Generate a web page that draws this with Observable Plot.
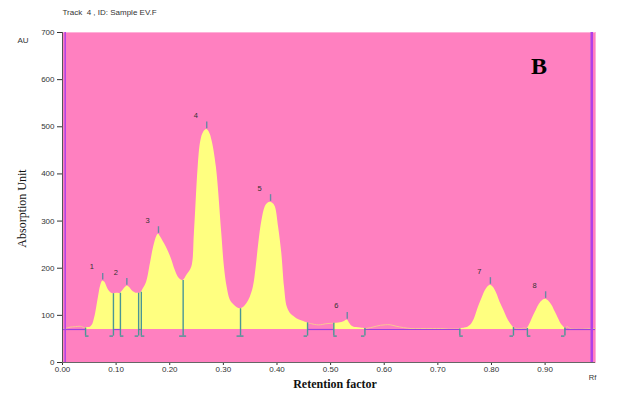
<!DOCTYPE html>
<html><head><meta charset="utf-8">
<script src="https://cdn.jsdelivr.net/npm/d3@7"></script>
<script src="https://cdn.jsdelivr.net/npm/@observablehq/plot@0.6"></script>
<style>body{margin:0;background:#fff} svg{display:block}</style>
</head><body><div id="chart"></div>
<script>
// Densitogram trace (Rf, AU)
const curveRf = [0.000,0.005,0.014,0.024,0.033,0.038,0.043,0.048,0.052,0.056,0.058,0.062,0.065,0.068,0.071,0.075,0.079,0.083,0.086,0.090,0.095,0.101,0.108,0.113,0.117,0.120,0.124,0.128,0.132,0.137,0.142,0.145,0.147,0.151,0.157,0.164,0.170,0.176,0.179,0.183,0.188,0.193,0.198,0.204,0.210,0.216,0.220,0.225,0.232,0.241,0.246,0.253,0.258,0.263,0.269,0.274,0.279,0.287,0.297,0.302,0.307,0.313,0.320,0.326,0.332,0.338,0.344,0.350,0.356,0.361,0.366,0.372,0.378,0.383,0.388,0.393,0.397,0.403,0.409,0.414,0.419,0.425,0.431,0.437,0.447,0.457,0.465,0.474,0.481,0.490,0.499,0.506,0.509,0.515,0.521,0.526,0.531,0.535,0.540,0.548,0.556,0.564,0.575,0.585,0.593,0.602,0.611,0.622,0.636,0.650,0.668,0.690,0.705,0.720,0.733,0.741,0.750,0.756,0.761,0.768,0.776,0.783,0.789,0.794,0.798,0.803,0.810,0.816,0.823,0.829,0.835,0.841,0.848,0.855,0.861,0.867,0.871,0.876,0.882,0.888,0.894,0.901,0.907,0.913,0.919,0.925,0.931,0.937,0.942,0.946,0.955,0.970,0.985,0.994];
const curveAU = [71,72,75,76,77,75,73,74,75,80,86,105,125,145,162,173,170,160,153,148,146,147,147,153,159,162,160,155,150,147,147,147,149,157,171,210,245,268,272,266,256,246,234,217,196,181,176,174,185,202,274,414,470,488,494,488,470,414,274,202,160,132,122,116,114,117,125,138,160,200,252,301,330,338,340,337,330,287,231,160,118,104,98,93,88,84,82,80,80,82,83,83,83,84,85,87,90,84,77,74,73,72,74,77,79,80,80,77,74,72,72,72,72,71,71,71,73,75,79,92,118,138,153,161,164,160,146,128,111,95,83,74,72,72,73,72,80,93,107,121,130,134,130,121,107,93,80,73,76,72,71,71,72,72];
const baselineAU = 70;

// yellow integrated regions
const regionFrom = [0.043,0.506,0.741,0.867];
const regionTo   = [0.457,0.564,0.841,0.937];

// purple baseline segments
const baseFrom = [0.000,0.095,0.142,0.457,0.564,0.841,0.937];
const baseTo   = [0.043,0.108,0.147,0.506,0.741,0.867,0.994];

// peak boundaries
const boundRf   = [0.043,0.095,0.108,0.142,0.147,0.225,0.332,0.457,0.506,0.564,0.741,0.841,0.867,0.937];
const boundTop  = [73,146,147,147,149,174,114,84,83,72,71,74,72,73];
const boundType = ["start","end","start","end","start","both","both","end","start","end","start","end","start","end"];
const footAU = 56;

// peaks
const peakNo = ["1","2","3","4","5","6","7","8"];
const peakRf = [0.075,0.120,0.179,0.269,0.388,0.531,0.798,0.901];
const peakAU = [173,162,272,494,340,90,164,134];

// start / front markers
const markerRf = [0.005,0.987];

const xTicks = [0,0.1,0.2,0.3,0.4,0.5,0.6,0.7,0.8,0.9];
const yTicks = [0,100,200,300,400,500,600,700];

const curve = curveRf.map((x,i)=>({x, y: curveAU[i]}));
const yellowPts = [];
regionFrom.forEach((a,k)=>{
  curve.filter(d=>d.x>=a && d.x<=regionTo[k]).forEach(d=>yellowPts.push({...d, seg:k}));
});
const gapPts = [];
const gapFrom = [0, ...regionTo], gapTo = [...regionFrom, 0.994];
gapFrom.forEach((a,k)=>{
  curve.filter(d=>d.x>=a && d.x<=gapTo[k]).forEach(d=>gapPts.push({...d, seg:k}));
});
const baseSegs = baseFrom.map((a,i)=>({a, b: baseTo[i]}));
const bounds = boundRf.map((x,i)=>({x, top: boundTop[i], t: boundType[i]}));
const footW = 0.0065;
const peaks = peakRf.map((x,i)=>({x, y: peakAU[i], n: peakNo[i]}));

const sans = "'Liberation Sans', Arial, sans-serif";
const serif = "'Liberation Serif', 'Times New Roman', serif";
const boundColor = "#4a9696";
const T = (s, o) => Plot.text([s], {text: d => d, textAnchor: "middle", lineAnchor: "middle", ...o});

const plot = Plot.plot({
  width: 620, height: 397,
  marginLeft: 62, marginRight: 25, marginTop: 32, marginBottom: 35,
  style: {fontFamily: sans, fontSize: "8px", color: "#333", background: "#fff", overflow: "visible"},
  x: {domain: [0, 0.994], ticks: xTicks, tickFormat: d=>d.toFixed(2), tickSize: 3, tickPadding: 1, label: null},
  y: {domain: [0, 700], ticks: yTicks, tickSize: 5, tickPadding: 3, label: null},
  marks: [
    Plot.frame({fill: "#ff80c0", stroke: "#ffb0d8"}),
    Plot.areaY(yellowPts, {x: "x", y1: () => baselineAU, y2: "y", z: "seg", fill: "#ffff80", curve: "catmull-rom"}),
    Plot.line(gapPts, {x: "x", y: "y", z: "seg", stroke: "#f8c890", strokeWidth: 1, curve: "catmull-rom"}),
    Plot.ruleY(baseSegs, {x1: "a", x2: "b", y: () => baselineAU, stroke: "#a040e0", strokeWidth: 1.2}),
    Plot.ruleX(bounds, {x: "x", y1: () => footAU, y2: "top", stroke: boundColor, strokeWidth: 1.4}),
    Plot.ruleY(bounds, {x1: d => d.t === "start" ? d.x : d.x - footW, x2: d => d.t === "end" ? d.x : d.x + footW, y: () => footAU, stroke: boundColor, strokeWidth: 1.4}),
    Plot.ruleX(peaks, {x: "x", y1: d => d.y + 2, y2: d => d.y + 16, stroke: "#6a88a4", strokeWidth: 1.4}),
    Plot.text(peaks, {x: "x", y: "y", text: "n", dx: -11, dy: -14, fontSize: 7.5, fill: "#333"}),
    Plot.ruleX(markerRf, {stroke: "#b040e8", strokeWidth: (d,i) => i === 0 ? 1.5 : 2.5}),
    Plot.ruleX([0], {stroke: "#555", strokeWidth: 1}),
    Plot.ruleY([0], {stroke: "#666", strokeWidth: 1}),
    T("Track  4 , ID: Sample EV.F", {frameAnchor: "top-left", textAnchor: "start", dx: 0, dy: -20, fontSize: 8, fill: "#333"}),
    T("AU", {frameAnchor: "top-left", textAnchor: "start", dx: -45, dy: 8, fontSize: 8, fill: "#333"}),
    T("Absorption Unit", {frameAnchor: "left", dx: -40, dy: 11, rotate: -90, fontSize: 12, fontFamily: serif, fill: "#111"}),
    T("Retention factor", {frameAnchor: "bottom", dx: 6, dy: 22, fontSize: 12, fontWeight: "bold", fontFamily: serif, fill: "#111"}),
    T("Rf", {frameAnchor: "bottom-right", dx: -3, dy: 15, fontSize: 7.5, fill: "#333"}),
    T("B", {frameAnchor: "top-right", dx: -56.5, dy: 34, fontSize: 24, fontWeight: "bold", fontFamily: serif, fill: "#000"})
  ]
});
document.getElementById("chart").appendChild(plot);
</script>
</body></html>
